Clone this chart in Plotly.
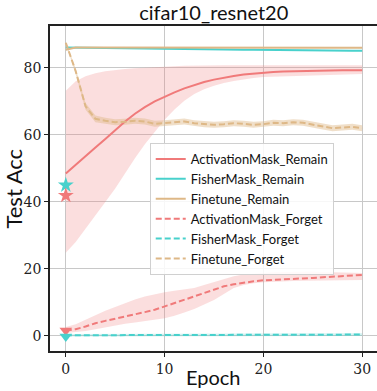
import plotly.graph_objects as go

epochs = list(range(31))

am_remain = [48.5, 51.0, 53.6, 56.2, 58.8, 61.4, 64.0, 66.3, 68.3, 70.0, 71.4, 72.7, 73.9, 74.9, 75.8, 76.5,
             77.1, 77.6, 78.0, 78.3, 78.6, 78.8, 78.9, 79.0, 79.1, 79.1, 79.2, 79.2, 79.3, 79.3, 79.3]
am_remain_hi = [73.2, 76.0, 77.5, 78.4, 79.0, 79.4, 79.7, 79.9, 80.1, 80.3, 80.4, 80.5, 80.6, 80.7, 80.8, 80.8,
                80.8, 80.8, 80.8, 80.8, 80.8, 80.8, 80.8, 80.8, 80.8, 80.8, 80.8, 80.8, 80.8, 80.8, 80.8]
am_remain_lo = [24.8, 28.0, 32.0, 36.0, 40.0, 44.0, 48.5, 53.0, 57.2, 61.0, 64.5, 67.6, 70.2, 72.2, 73.6, 74.7,
                75.5, 76.1, 76.6, 77.0, 77.3, 77.5, 77.6, 77.7, 77.8, 77.9, 78.0, 78.0, 78.1, 78.1, 78.2]

fm_remain = [86.1, 86.05, 86.0, 85.95, 85.9, 85.85, 85.8, 85.8, 85.75, 85.7, 85.7, 85.65, 85.6, 85.6, 85.55, 85.5,
             85.5, 85.45, 85.4, 85.4, 85.35, 85.3, 85.3, 85.3, 85.25, 85.2, 85.2, 85.2, 85.15, 85.1, 85.1]

ft_remain = [85.4, 86.1, 86.1, 86.1, 86.0, 86.0, 86.0, 86.0, 86.0, 86.0, 86.0, 86.0, 86.0, 86.0, 86.0, 86.0,
             86.0, 86.0, 86.0, 86.0, 86.0, 86.0, 86.0, 86.0, 86.0, 86.0, 86.0, 86.0, 86.0, 86.0, 86.0]

am_forget = [1.6, 2.0, 2.8, 3.8, 4.5, 5.1, 5.7, 6.4, 7.1, 7.8, 8.8, 9.8, 10.9, 11.9, 13.0, 14.0,
             14.8, 15.4, 15.9, 16.3, 16.6, 16.7, 16.8, 16.9, 17.1, 17.3, 17.5, 17.7, 17.9, 18.1, 18.2]
am_forget_hi = [2.7, 3.5, 4.8, 6.2, 7.5, 8.6, 9.8, 10.9, 11.8, 12.5, 13.0, 13.5, 13.9, 14.3, 15.2, 16.1,
                17.0, 17.8, 18.3, 18.6, 18.8, 19.0, 19.1, 19.2, 19.2, 19.2, 19.1, 19.0, 18.9, 18.8, 18.8]
am_forget_lo = [0.9, 1.1, 1.5, 2.0, 2.5, 3.0, 3.6, 4.0, 4.4, 4.8, 5.3, 6.0, 7.0, 8.0, 9.4, 10.7,
                12.5, 14.3, 15.2, 15.7, 16.0, 16.2, 16.3, 16.4, 16.5, 16.5, 16.6, 16.6, 16.7, 16.7, 16.7]

fm_forget = [0.2, 0.2, 0.2, 0.2, 0.2, 0.2, 0.2, 0.2, 0.2, 0.2, 0.25, 0.25, 0.25, 0.25, 0.25, 0.3,
             0.3, 0.3, 0.3, 0.3, 0.3, 0.3, 0.3, 0.35, 0.35, 0.35, 0.35, 0.35, 0.4, 0.4, 0.4]

ft_forget = [87.5, 79.0, 68.5, 64.8, 64.2, 63.8, 63.9, 64.2, 64.0, 63.3, 63.5, 63.8, 64.0, 63.5, 63.2, 63.0,
             63.2, 63.5, 63.3, 63.0, 63.2, 63.6, 63.5, 63.8, 63.6, 63.0, 62.5, 62.0, 62.2, 62.4, 62.0]
ft_forget_err = [0.3, 0.8, 1.0, 1.0, 0.9, 0.9, 0.9, 0.9, 0.9, 0.9, 0.9, 0.9, 0.9, 0.9, 0.9, 0.9,
                 0.9, 0.9, 0.9, 0.9, 0.9, 0.9, 0.9, 0.9, 0.9, 0.9, 0.9, 0.9, 0.9, 0.9, 0.9]

# starting points (epoch 0 markers)
star_fm = 45.0
star_am = 41.9
tri_am = 1.6
tri_fm = -0.2

RED = "#F07A7A"
TEAL = "#48D1CC"
TAN = "#DEB887"

def rgba(hexc, a):
    h = hexc.lstrip("#")
    r, g, b = int(h[0:2], 16), int(h[2:4], 16), int(h[4:6], 16)
    return f"rgba({r},{g},{b},{a})"

fig = go.Figure()

def band(lo, hi, color, alpha=0.25):
    fig.add_trace(go.Scatter(x=epochs + epochs[::-1], y=hi + lo[::-1], fill="toself",
                             fillcolor=rgba(color, alpha), line=dict(width=0),
                             mode="lines", showlegend=False, hoverinfo="skip"))

band(am_remain_lo, am_remain_hi, RED)
band([v - 0.15 for v in fm_remain], [v + 0.15 for v in fm_remain], TEAL)
band([v - 0.15 for v in ft_remain], [v + 0.15 for v in ft_remain], TAN)
band(am_forget_lo, am_forget_hi, RED)
band([v - 0.4 for v in fm_forget], [v + 0.4 for v in fm_forget], TEAL)
band([a - e for a, e in zip(ft_forget, ft_forget_err)], [a + e for a, e in zip(ft_forget, ft_forget_err)], TAN, 0.45)

DASH = "6px,3px"
fig.add_trace(go.Scatter(x=epochs, y=am_remain, mode="lines", name="ActivationMask_Remain",
                         line=dict(color=RED, width=2)))
fig.add_trace(go.Scatter(x=epochs, y=fm_remain, mode="lines", name="FisherMask_Remain",
                         line=dict(color=TEAL, width=2)))
fig.add_trace(go.Scatter(x=epochs, y=ft_remain, mode="lines", name="Finetune_Remain",
                         line=dict(color=TAN, width=2)))
fig.add_trace(go.Scatter(x=epochs, y=am_forget, mode="lines", name="ActivationMask_Forget",
                         line=dict(color=RED, width=2, dash=DASH)))
fig.add_trace(go.Scatter(x=epochs, y=fm_forget, mode="lines", name="FisherMask_Forget",
                         line=dict(color=TEAL, width=2, dash=DASH)))
fig.add_trace(go.Scatter(x=epochs, y=ft_forget, mode="lines", name="Finetune_Forget",
                         line=dict(color=TAN, width=2, dash=DASH)))

fig.add_trace(go.Scatter(x=[0], y=[star_fm], mode="markers", showlegend=False,
                         marker=dict(symbol="star", size=12, color=TEAL, line=dict(width=0))))
fig.add_trace(go.Scatter(x=[0], y=[star_am], mode="markers", showlegend=False,
                         marker=dict(symbol="star", size=12, color=RED, line=dict(width=0))))
fig.add_trace(go.Scatter(x=[0], y=[tri_am], mode="markers", showlegend=False,
                         marker=dict(symbol="triangle-down", size=11, color=RED, line=dict(width=0))))
fig.add_trace(go.Scatter(x=[0], y=[tri_fm], mode="markers", showlegend=False,
                         marker=dict(symbol="triangle-down", size=11, color=TEAL, line=dict(width=0))))

tickfont = dict(family="DejaVu Serif", size=14, color="#222")
fig.update_layout(
    width=377, height=391,
    margin=dict(l=50, r=0, t=26, b=40),
    plot_bgcolor="white", paper_bgcolor="white",
    title=dict(text="cifar10_resnet20", x=0.567, xanchor="center", y=0.967, yanchor="middle",
               font=dict(family="Lato, sans-serif", size=20, color="#111")),
    xaxis=dict(range=[-1.6, 31.5], tickvals=[0, 10, 20, 30], showgrid=True, gridcolor="#c8c8c8",
               gridwidth=1.2, zeroline=False, showline=True, linecolor="#222", linewidth=1.5,
               mirror=True, ticks="outside", ticklen=4, tickcolor="#222", tickfont=tickfont,
               automargin=False),
    yaxis=dict(range=[-4.5, 92.5], tickvals=[0, 20, 40, 60, 80], showgrid=True, gridcolor="#c8c8c8",
               gridwidth=1.2, zeroline=False, showline=True, linecolor="#222", linewidth=1.5,
               ticks="outside", ticklen=4, tickcolor="#222", tickfont=tickfont,
               automargin=False),
    legend=dict(x=0.305, y=0.64, xanchor="left", yanchor="top",
                bgcolor="rgba(255,255,255,0.85)", bordercolor="#d0d0d0", borderwidth=1,
                font=dict(family="Lato, sans-serif", size=13, color="#111"),
                tracegroupgap=0, itemwidth=30),
    showlegend=True,
    annotations=[
        dict(text="Test Acc", xref="paper", yref="paper", x=-0.113, y=0.5, xanchor="center",
             yanchor="middle", textangle=-90, showarrow=False,
             font=dict(family="Lato, sans-serif", size=22, color="#111")),
        dict(text="Epoch", xref="paper", yref="paper", x=0.5, y=-0.079, xanchor="center",
             yanchor="middle", showarrow=False,
             font=dict(family="Lato, sans-serif", size=20, color="#111")),
    ],
)

fig.write_html("out.html")
